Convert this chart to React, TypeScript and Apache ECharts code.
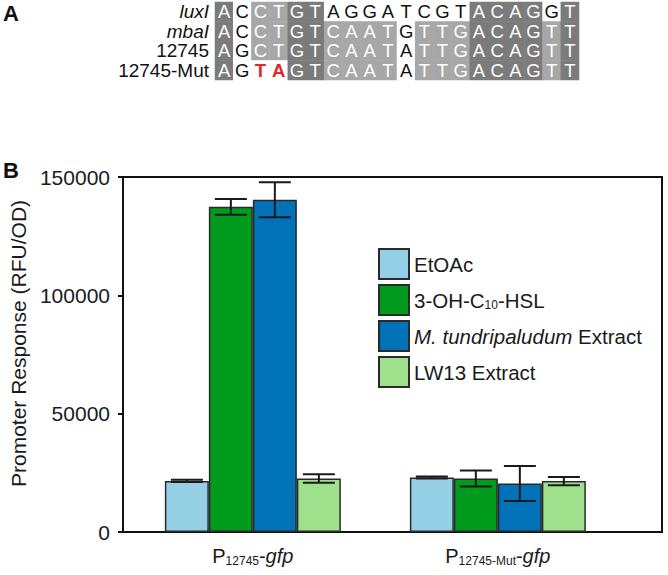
import React, { useEffect, useRef } from "react";
import * as echarts from "echarts";

const FONT = "'Liberation Sans', Arial, sans-serif";

// Panel A: sequence alignment
const rowLabels = ["luxI", "mbaI", "12745", "12745-Mut"];
const italicRows = ["luxI", "mbaI"];
const sequences = [
  "ACCTGTAGGATCGTACAGGT",
  "ACCTGTCAATGTTGACAGTT",
  "AGCTGTCAATATTGACAGTT",
  "AGTAGTCAATATTGACAGTT",
];
// 0 = white, 1 = light grey, 2 = dark grey, 3 = mutated (white, red letter)
const shading = [
  "20112200000000222202",
  "20112211110111222212",
  "20112211110111222212",
  "20332211110111222212",
];

// Panel B: promoter response
const groups = ["P12745-gfp", "P12745-Mut-gfp"];
const groupPositions = [1, 2];
const seriesNames = ["EtOAc", "3-OH-C10-HSL", "M. tundripaludum Extract", "LW13 Extract"];
const etoacValues = [21600, 23000];
const hslValues = [137400, 22600];
const extractValues = [140400, 20500];
const lw13Values = [22600, 21500];
const etoacErrors = [500, 400];
const hslErrors = [3300, 3350];
const extractErrors = [7400, 7350];
const lw13Errors = [1800, 1750];
const yTicks = [0, 50000, 100000, 150000];

const seriesValues = [etoacValues, hslValues, extractValues, lw13Values];
const seriesErrors = [etoacErrors, hslErrors, extractErrors, lw13Errors];
const seriesColors = ["#95cfe5", "#009b1c", "#0072b7", "#9ee08b"];

const BAR_W = 44;
const CAP_W = 32;

export default function App() {
  const ref = useRef<HTMLDivElement>(null);
  useEffect(() => {
    document.body.style.margin = "0";
    if (!ref.current) return;
    const chart = echarts.init(ref.current, undefined, { renderer: "svg" });

    const heatData: any[] = [];
    sequences.forEach((seq, r) => {
      seq.split("").forEach((letter, c) => {
        const s = Number(shading[r][c]);
        heatData.push({
          value: [c, r, s],
          letter,
          label: {
            color: s === 3 ? "#e3262a" : s === 0 ? "#111" : "#ffffff",
            fontWeight: s === 3 ? "bold" : "normal",
          },
        });
      });
    });

    const errData: any[] = [];
    seriesErrors.forEach((errs, si) => {
      errs.forEach((e, gi) => {
        const v = seriesValues[si][gi];
        errData.push([groupPositions[gi], v - e, v + e, si]);
      });
    });

    const mkRich = (size: number) => ({
      sub: { fontSize: 12, lineHeight: 12, fontFamily: FONT, color: "#1a1a1a", padding: [9, 0, 0, 0] },
      it: { fontSize: size, lineHeight: 24, fontStyle: "italic", fontFamily: FONT, color: "#1a1a1a" },
      n: { fontSize: size, lineHeight: 24, fontFamily: FONT, color: "#1a1a1a" },
    });

    const option: any = {
      animation: false,
      title: [
        { text: "A", left: 3, top: 2, padding: 0, textStyle: { fontSize: 22, fontWeight: "bold", fontFamily: FONT, color: "#111" } },
        { text: "B", left: 3, top: 159, padding: 0, textStyle: { fontSize: 22, fontWeight: "bold", fontFamily: FONT, color: "#111" } },
      ],
      grid: [
        { left: 215, top: 2, width: 364, height: 78 },
        { left: 120, top: 177, right: 6, bottom: 43, show: true, borderColor: "#111", borderWidth: 2 },
      ],
      xAxis: [
        {
          gridIndex: 0,
          type: "category",
          data: sequences[0].split("").map((_, i) => String(i)),
          show: false,
        },
        {
          gridIndex: 1,
          type: "value",
          min: 0.47,
          max: 2.67,
          splitLine: { show: false },
          axisTick: { show: false },
          axisLine: { show: true, lineStyle: { color: "#111", width: 2 } },
          axisLabel: {
            customValues: groupPositions,
            margin: 12,
            formatter: (v: number) => {
              const i = groupPositions.indexOf(Math.round(v));
              if (i < 0) return "";
              const sub = groups[i].replace(/^P/, "").replace(/-gfp$/, "");
              return `{n|P}{sub|${sub}}{n|-}{it|gfp}`;
            },
            rich: mkRich(20),
          },
        },
      ],
      yAxis: [
        {
          gridIndex: 0,
          type: "category",
          inverse: true,
          data: rowLabels,
          axisLine: { show: false },
          axisTick: { show: false },
          splitLine: { show: false },
          axisLabel: {
            margin: 6,
            interval: 0,
            hideOverlap: false,
            formatter: (v: string) => (italicRows.includes(v) ? `{it|${v}}` : `{n|${v}}`),
            rich: {
              it: { fontSize: 19, lineHeight: 18, fontStyle: "italic", fontFamily: FONT, color: "#111" },
              n: { fontSize: 19, lineHeight: 18, fontFamily: FONT, color: "#111" },
            },
          },
        },
        {
          gridIndex: 1,
          type: "value",
          min: 0,
          max: 150000,
          interval: 50000,
          splitLine: { show: false },
          axisLine: { show: true, lineStyle: { color: "#111", width: 2 } },
          axisTick: { show: true, inside: false, length: 5, lineStyle: { color: "#111", width: 2 } },
          axisLabel: {
            fontSize: 21,
            fontFamily: FONT,
            color: "#1a1a1a",
            margin: 13,
            customValues: yTicks,
            formatter: (v: number) => String(v),
          },
          name: "Promoter Response (RFU/OD)",
          nameLocation: "middle",
          nameGap: 94,
          nameTextStyle: { fontSize: 21, fontFamily: FONT, color: "#1a1a1a", padding: [0, 0, 0, 22] },
        },
      ],
      visualMap: {
        type: "piecewise",
        show: false,
        seriesIndex: 0,
        dimension: 2,
        pieces: [
          { value: 0, color: "#ffffff" },
          { value: 1, color: "#a7a7a7" },
          { value: 2, color: "#7b7b7b" },
          { value: 3, color: "#ffffff" },
        ],
      },
      legend: {
        orient: "vertical",
        left: 378,
        top: 248,
        itemWidth: 30,
        itemHeight: 30,
        itemGap: 4,
        padding: 0,
        icon: "rect",
        data: seriesNames,
        itemStyle: { borderColor: "#2a2a2a", borderWidth: 2 },
        formatter: (name: string) => {
          if (name === "3-OH-C10-HSL") return "{n|3-OH-C}{sub|10}{n|-HSL}";
          if (name === "M. tundripaludum Extract") return "{it|M. tundripaludum}{n| Extract}";
          return `{n|${name}}`;
        },
        textStyle: {
          fontSize: 20.5,
          lineHeight: 24,
          fontFamily: FONT,
          color: "#1a1a1a",
          rich: mkRich(20.5),
        },
      },
      series: [
        {
          type: "heatmap",
          xAxisIndex: 0,
          yAxisIndex: 0,
          data: heatData,
          label: {
            show: true,
            fontSize: 18.5,
            fontFamily: FONT,
            formatter: (p: any) => p.data.letter,
          },
          itemStyle: { borderWidth: 0 },
          emphasis: { disabled: true },
        },
        ...seriesNames.map((name, si) => ({
          type: "bar",
          name,
          xAxisIndex: 1,
          yAxisIndex: 1,
          barWidth: BAR_W,
          barGap: "0%",
          data: seriesValues[si].map((v, gi) => [groupPositions[gi], v]),
          itemStyle: { color: seriesColors[si], borderColor: "#2a2a2a", borderWidth: 1.5 },
        })),
        {
          type: "custom",
          xAxisIndex: 1,
          yAxisIndex: 1,
          data: errData,
          encode: { x: 0, y: [1, 2] },
          z: 10,
          renderItem: (params: any, api: any) => {
            const x = api.value(0);
            const lo = api.value(1);
            const hi = api.value(2);
            const si = api.value(3);
            const pHi = api.coord([x, hi]);
            const pLo = api.coord([x, lo]);
            const cx = pHi[0] + (si - 1.5) * BAR_W;
            const h = CAP_W / 2;
            const style = { stroke: "#1a1a1a", lineWidth: 2 };
            return {
              type: "group",
              children: [
                { type: "line", shape: { x1: cx, y1: pHi[1], x2: cx, y2: pLo[1] }, style },
                { type: "line", shape: { x1: cx - h, y1: pHi[1], x2: cx + h, y2: pHi[1] }, style },
                { type: "line", shape: { x1: cx - h, y1: pLo[1], x2: cx + h, y2: pLo[1] }, style },
              ],
            };
          },
        },
      ],
    };
    chart.setOption(option);
    return () => chart.dispose();
  }, []);
  return <div ref={ref} style={{ width: 668, height: 575 }} />;
}
